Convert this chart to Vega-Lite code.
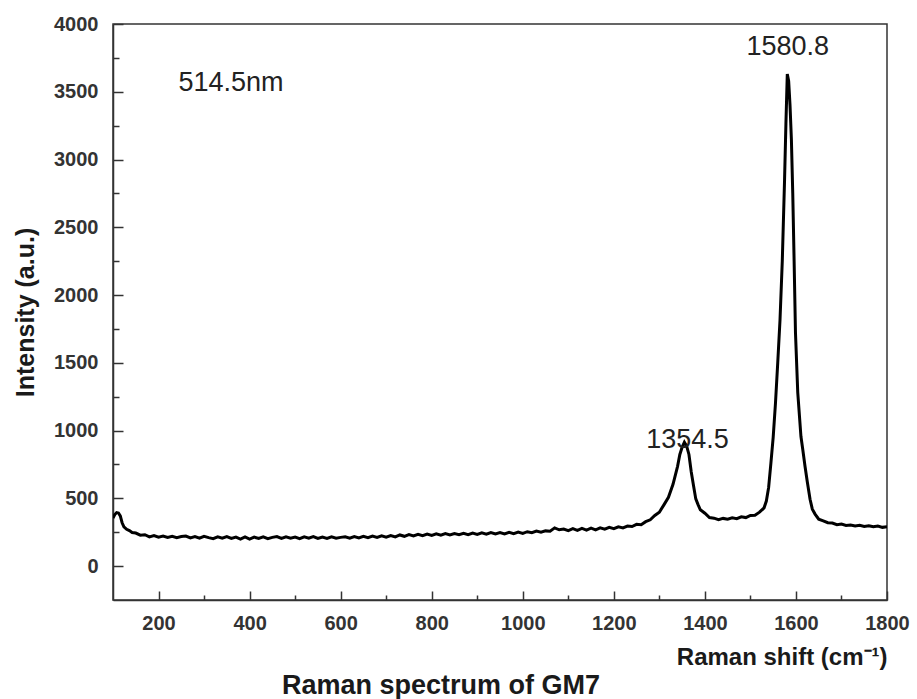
{
  "$schema": "https://vega.github.io/schema/vega-lite/v6.json",
  "width": 774,
  "height": 576,
  "autosize": "none",
  "padding": {"left": 113, "top": 24, "right": 30, "bottom": 99},
  "background": "white",
  "config": {
    "view": {"stroke": "#333333", "strokeWidth": 1.5},
    "font": "Liberation Sans"
  },
  "title": {
    "text": "Raman spectrum of GM7",
    "orient": "bottom",
    "anchor": "start",
    "frame": "group",
    "dx": 169,
    "offset": 4,
    "fontSize": 27,
    "fontWeight": "bold",
    "color": "#1a1a1a",
    "font": "Liberation Sans"
  },
  "resolve": {"axis": {"x": "independent", "y": "independent"}},
  "layer": [
    {
      "data": {
        "values": [
          {"x": 100, "y": 355}, {"x": 104, "y": 380}, {"x": 108, "y": 395}, {"x": 112, "y": 392},
          {"x": 116, "y": 370}, {"x": 120, "y": 320}, {"x": 124, "y": 290}, {"x": 130, "y": 272},
          {"x": 136, "y": 262}, {"x": 142, "y": 248}, {"x": 150, "y": 244}, {"x": 160, "y": 228},
          {"x": 170, "y": 232}, {"x": 180, "y": 216}, {"x": 190, "y": 226}, {"x": 200, "y": 214},
          {"x": 210, "y": 222}, {"x": 220, "y": 212}, {"x": 230, "y": 220}, {"x": 240, "y": 210},
          {"x": 250, "y": 218}, {"x": 260, "y": 222}, {"x": 270, "y": 208}, {"x": 280, "y": 218},
          {"x": 290, "y": 206}, {"x": 300, "y": 220}, {"x": 310, "y": 210}, {"x": 320, "y": 202},
          {"x": 330, "y": 216}, {"x": 340, "y": 206}, {"x": 350, "y": 218}, {"x": 360, "y": 204},
          {"x": 370, "y": 214}, {"x": 380, "y": 200}, {"x": 390, "y": 216}, {"x": 400, "y": 200},
          {"x": 410, "y": 214}, {"x": 420, "y": 204}, {"x": 430, "y": 216}, {"x": 440, "y": 202},
          {"x": 450, "y": 212}, {"x": 460, "y": 218}, {"x": 470, "y": 204}, {"x": 480, "y": 216},
          {"x": 490, "y": 206}, {"x": 500, "y": 214}, {"x": 510, "y": 202}, {"x": 520, "y": 216},
          {"x": 530, "y": 206}, {"x": 540, "y": 218}, {"x": 550, "y": 204}, {"x": 560, "y": 214},
          {"x": 570, "y": 204}, {"x": 580, "y": 216}, {"x": 590, "y": 206}, {"x": 600, "y": 212},
          {"x": 610, "y": 216}, {"x": 620, "y": 206}, {"x": 630, "y": 218}, {"x": 640, "y": 208},
          {"x": 650, "y": 220}, {"x": 660, "y": 210}, {"x": 670, "y": 222}, {"x": 680, "y": 212},
          {"x": 690, "y": 224}, {"x": 700, "y": 214}, {"x": 710, "y": 226}, {"x": 720, "y": 216},
          {"x": 730, "y": 230}, {"x": 740, "y": 220}, {"x": 750, "y": 232}, {"x": 760, "y": 222},
          {"x": 770, "y": 234}, {"x": 780, "y": 224}, {"x": 790, "y": 236}, {"x": 800, "y": 226},
          {"x": 810, "y": 238}, {"x": 820, "y": 228}, {"x": 830, "y": 240}, {"x": 840, "y": 230},
          {"x": 850, "y": 240}, {"x": 860, "y": 232}, {"x": 870, "y": 242}, {"x": 880, "y": 232},
          {"x": 890, "y": 244}, {"x": 900, "y": 234}, {"x": 910, "y": 246}, {"x": 920, "y": 236},
          {"x": 930, "y": 248}, {"x": 940, "y": 238}, {"x": 950, "y": 248}, {"x": 960, "y": 238},
          {"x": 970, "y": 250}, {"x": 980, "y": 240}, {"x": 990, "y": 252}, {"x": 1000, "y": 242},
          {"x": 1010, "y": 254}, {"x": 1020, "y": 246}, {"x": 1030, "y": 258}, {"x": 1040, "y": 250},
          {"x": 1050, "y": 260}, {"x": 1060, "y": 258}, {"x": 1070, "y": 282}, {"x": 1080, "y": 268},
          {"x": 1090, "y": 274}, {"x": 1100, "y": 262}, {"x": 1110, "y": 276}, {"x": 1120, "y": 264},
          {"x": 1130, "y": 278}, {"x": 1140, "y": 266}, {"x": 1150, "y": 280}, {"x": 1160, "y": 268},
          {"x": 1170, "y": 282}, {"x": 1180, "y": 272}, {"x": 1190, "y": 286}, {"x": 1200, "y": 276},
          {"x": 1210, "y": 290}, {"x": 1220, "y": 282}, {"x": 1230, "y": 296}, {"x": 1240, "y": 292},
          {"x": 1250, "y": 308}, {"x": 1260, "y": 306}, {"x": 1270, "y": 328}, {"x": 1280, "y": 342},
          {"x": 1290, "y": 374}, {"x": 1300, "y": 398}, {"x": 1310, "y": 452}, {"x": 1320, "y": 508},
          {"x": 1330, "y": 604}, {"x": 1340, "y": 736}, {"x": 1345, "y": 824}, {"x": 1350, "y": 876},
          {"x": 1355, "y": 914}, {"x": 1360, "y": 886}, {"x": 1365, "y": 824}, {"x": 1370, "y": 696},
          {"x": 1375, "y": 594}, {"x": 1380, "y": 496}, {"x": 1385, "y": 454}, {"x": 1390, "y": 416},
          {"x": 1400, "y": 390}, {"x": 1410, "y": 358}, {"x": 1420, "y": 354}, {"x": 1430, "y": 342},
          {"x": 1440, "y": 352}, {"x": 1450, "y": 346}, {"x": 1460, "y": 356}, {"x": 1470, "y": 350},
          {"x": 1480, "y": 364}, {"x": 1490, "y": 358}, {"x": 1500, "y": 374}, {"x": 1510, "y": 376},
          {"x": 1520, "y": 398}, {"x": 1530, "y": 430}, {"x": 1535, "y": 480}, {"x": 1540, "y": 580},
          {"x": 1545, "y": 760}, {"x": 1550, "y": 950}, {"x": 1555, "y": 1200}, {"x": 1560, "y": 1500},
          {"x": 1565, "y": 1816}, {"x": 1570, "y": 2250}, {"x": 1575, "y": 2850}, {"x": 1578, "y": 3265},
          {"x": 1581, "y": 3630}, {"x": 1584, "y": 3580}, {"x": 1587, "y": 3400}, {"x": 1590, "y": 3150},
          {"x": 1593, "y": 2750}, {"x": 1596, "y": 2250}, {"x": 1599, "y": 1720}, {"x": 1604, "y": 1280},
          {"x": 1611, "y": 956}, {"x": 1615, "y": 860}, {"x": 1620, "y": 735}, {"x": 1625, "y": 620},
          {"x": 1631, "y": 493}, {"x": 1636, "y": 420}, {"x": 1642, "y": 384}, {"x": 1650, "y": 346},
          {"x": 1660, "y": 334}, {"x": 1670, "y": 320}, {"x": 1680, "y": 318}, {"x": 1690, "y": 306},
          {"x": 1700, "y": 310}, {"x": 1710, "y": 300}, {"x": 1720, "y": 304}, {"x": 1730, "y": 296},
          {"x": 1740, "y": 302}, {"x": 1750, "y": 292}, {"x": 1760, "y": 298}, {"x": 1770, "y": 290},
          {"x": 1780, "y": 296}, {"x": 1790, "y": 286}, {"x": 1800, "y": 290}
        ]
      },
      "mark": {"type": "line", "color": "black", "strokeWidth": 3, "clip": true},
      "encoding": {
        "x": {
          "field": "x",
          "type": "quantitative",
          "scale": {"domain": [100, 1800], "nice": false, "zero": false},
          "axis": {
            "orient": "bottom",
            "values": [200, 400, 600, 800, 1000, 1200, 1400, 1600, 1800],
            "format": "d",
            "tickSize": -9,
            "tickColor": "#333333",
            "tickWidth": 1.5,
            "domainColor": "#333333",
            "domainWidth": 1.5,
            "grid": false,
            "labelFlush": false,
            "labelOverlap": false,
            "labelBound": false,
            "labelFontSize": 20,
            "labelFontWeight": "bold",
            "labelColor": "#333333",
            "labelPadding": 22,
            "title": "Raman shift (cm⁻¹)",
            "titleAnchor": "end",
            "titleFontSize": 24,
            "titleFontWeight": "bold",
            "titleColor": "#1a1a1a",
            "titlePadding": 12
          }
        },
        "y": {
          "field": "y",
          "type": "quantitative",
          "scale": {"domain": [-250, 4000], "nice": false, "zero": false},
          "axis": {
            "orient": "left",
            "values": [0, 500, 1000, 1500, 2000, 2500, 3000, 3500, 4000],
            "format": "d",
            "tickSize": -10,
            "tickColor": "#333333",
            "tickWidth": 1.5,
            "domainColor": "#333333",
            "domainWidth": 1.5,
            "grid": false,
            "labelOverlap": false,
            "labelBound": false,
            "labelFontSize": 20,
            "labelFontWeight": "bold",
            "labelColor": "#333333",
            "labelPadding": 25,
            "title": "Intensity (a.u.)",
            "titleFontSize": 25,
            "titleFontWeight": "bold",
            "titleColor": "#1a1a1a",
            "titlePadding": 15
          }
        }
      }
    },
    {
      "data": {
        "values": [
          {"x": 359, "y": 3566, "label": "514.5nm"},
          {"x": 1362, "y": 934, "label": "1354.5"},
          {"x": 1582, "y": 3830, "label": "1580.8"}
        ]
      },
      "mark": {"type": "text", "fontSize": 27, "color": "#222222", "align": "center", "baseline": "middle", "font": "Liberation Sans"},
      "encoding": {
        "x": {
          "field": "x",
          "type": "quantitative",
          "axis": {
            "orient": "bottom",
            "values": [300, 500, 700, 900, 1100, 1300, 1500, 1700],
            "tickSize": -5,
            "tickColor": "#333333",
            "tickWidth": 1.5,
            "domain": false,
            "labels": false,
            "grid": false,
            "title": null
          }
        },
        "y": {
          "field": "y",
          "type": "quantitative",
          "axis": {
            "orient": "left",
            "values": [250, 750, 1250, 1750, 2250, 2750, 3250, 3750],
            "tickSize": -6,
            "tickColor": "#333333",
            "tickWidth": 1.5,
            "domain": false,
            "labels": false,
            "grid": false,
            "title": null
          }
        },
        "text": {"field": "label", "type": "nominal"}
      }
    }
  ]
}
